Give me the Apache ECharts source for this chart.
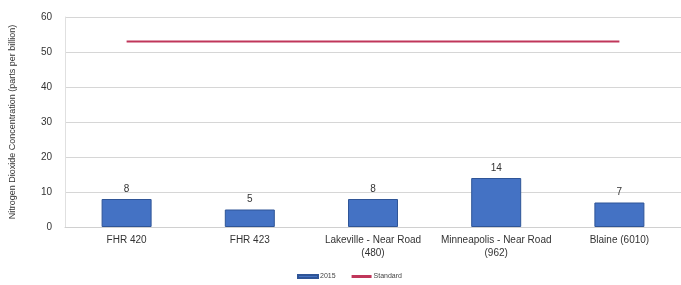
<!DOCTYPE html>
<html>
<head>
<meta charset="utf-8">
<script src="https://cdn.jsdelivr.net/npm/echarts@6/dist/echarts.min.js"></script>
<style>
  html, body { margin: 0; padding: 0; background: #fff; }
  #chart { width: 681px; height: 285px; }
</style>
</head>
<body>
<div id="chart"></div>
<script>
// values
var sites = ['FHR 420', 'FHR 423', 'Lakeville - Near Road\n(480)', 'Minneapolis - Near Road\n(962)', 'Blaine (6010)']
var no2_2015 = [8, 5, 8, 14, 7]
var standard = [53, 53, 53, 53, 53]

var chart = echarts.init(document.getElementById('chart'))
chart.setOption({
  animation: false,
  textStyle: { fontFamily: 'Liberation Sans, Arial, sans-serif' },
  grid: { left: 65, right: -3, top: 17, bottom: 58 },
  legend: {
    bottom: 0,
    left: 292,
    itemGap: 16,
    itemWidth: 20,
    itemHeight: 3,
    textStyle: { fontSize: 7, color: '#444', padding: [0, 0, 0, -3] },
    data: [
      { name: '2015', icon: 'rect' },
      { name: 'Standard', icon: 'rect' }
    ]
  },
  xAxis: {
    type: 'category',
    data: sites,
    axisTick: { show: false },
    axisLine: { lineStyle: { color: '#d0d0d0' } },
    axisLabel: { color: '#333', fontSize: 10, interval: 0, margin: 7, lineHeight: 13 }
  },
  yAxis: {
    type: 'value',
    min: 0,
    max: 60,
    interval: 10,
    name: 'Nitrogen Dioxide Concentration (parts per billion)',
    nameLocation: 'middle',
    nameGap: 48,
    nameTextStyle: { fontSize: 9, color: '#333' },
    axisLine: { show: true, lineStyle: { color: '#e0e0e0' } },
    axisLabel: { color: '#333', fontSize: 10, margin: 13 },
    splitLine: { lineStyle: { color: '#d6d6d6' } }
  },
  series: [
    {
      name: '2015',
      type: 'bar',
      data: no2_2015,
      barWidth: 50,
      itemStyle: { color: '#4472c4', borderColor: '#2f5597', borderWidth: 1 },
      label: { show: true, position: 'top', color: '#333', fontSize: 10, distance: 5 }
    },
    {
      name: 'Standard',
      type: 'line',
      data: standard,
      symbol: 'none',
      lineStyle: { color: '#c0365a', width: 2 },
      itemStyle: { color: '#c0365a' }
    }
  ]
})
</script>
</body>
</html>
